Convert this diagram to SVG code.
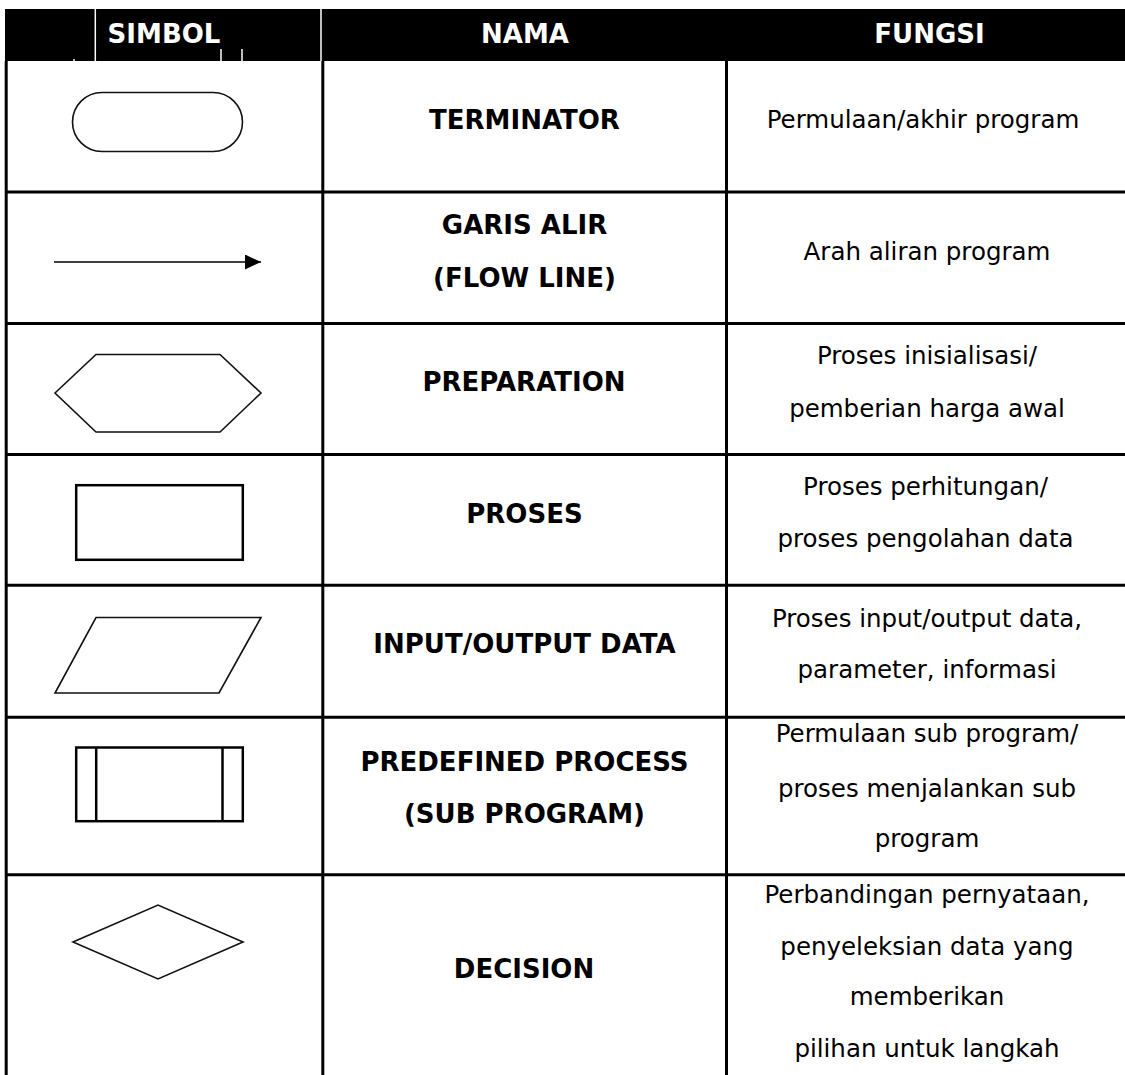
<svg xmlns="http://www.w3.org/2000/svg" width="1125" height="1075" viewBox="0 0 1125 1075">
<style>
.h{font-family:"DejaVu Sans",Verdana,sans-serif;font-weight:bold;font-size:26px;fill:#fff;text-anchor:middle}
.b{font-family:"DejaVu Sans",Verdana,sans-serif;font-weight:bold;font-size:26px;fill:#000;text-anchor:middle}
.r{font-family:"DejaVu Sans",Verdana,sans-serif;font-size:24.5px;fill:#000;text-anchor:middle}
.grid{stroke:#000;stroke-width:3;fill:none}
.thin{stroke:#111;stroke-width:1.6;fill:#fff;stroke-linejoin:miter}
.thick{stroke:#000;stroke-width:2.5;fill:#fff}
.tick{stroke:#fff;stroke-width:1.5}
</style>
<defs>
<marker id="ah" markerUnits="userSpaceOnUse" markerWidth="17" markerHeight="16" refX="16" refY="7.5" orient="auto">
<path d="M0,0 L16,7.5 L0,15 Z" fill="#000"/>
</marker>
</defs>
<rect width="1125" height="1075" fill="#fff"/>

<g id="header">
<rect x="5" y="9" width="1120" height="52" fill="#000"/>
<line class="tick" x1="95.3" y1="9" x2="95.3" y2="61"/>
<line class="tick" x1="321" y1="9" x2="321" y2="61"/>
<line class="tick" x1="221" y1="49" x2="221" y2="61"/>
<line class="tick" x1="242" y1="49" x2="242" y2="61"/>
<line class="tick" x1="74" y1="59" x2="74" y2="61"/>
<text class="h" x="164" y="43">SIMBOL</text>
<text class="h" x="525" y="43">NAMA</text>
<text class="h" x="929.5" y="43">FUNGSI</text>
</g>

<g id="grid" class="grid">
<line x1="6.2" y1="61" x2="6.2" y2="1075"/>
<line x1="322.8" y1="61" x2="322.8" y2="1075"/>
<line x1="726.5" y1="61" x2="726.5" y2="1075"/>
<line x1="5" y1="192" x2="1125" y2="192"/>
<line x1="5" y1="323.5" x2="1125" y2="323.5"/>
<line x1="5" y1="454.5" x2="1125" y2="454.5"/>
<line x1="5" y1="585.3" x2="1125" y2="585.3"/>
<line x1="5" y1="717.3" x2="1125" y2="717.3"/>
<line x1="5" y1="874.7" x2="1125" y2="874.7"/>
</g>

<g id="terminator">
<rect class="thin" x="72.5" y="92.5" width="170" height="59" rx="29.5" ry="29.5"/>
<text class="b" x="524.5" y="129">TERMINATOR</text>
<text class="r" x="923" y="128">Permulaan/akhir program</text>
</g>

<g id="flowline">
<line x1="54" y1="262" x2="261" y2="262" stroke="#000" stroke-width="1.6" marker-end="url(#ah)"/>
<text class="b" x="524.5" y="234">GARIS ALIR</text>
<text class="b" x="524.5" y="287">(FLOW LINE)</text>
<text class="r" x="927" y="260">Arah aliran program</text>
</g>

<g id="preparation">
<polygon class="thin" points="55,393 96,354.5 220,354.5 261,393 220,432 96,432"/>
<text class="b" x="524" y="391">PREPARATION</text>
<text class="r" x="927" y="364">Proses inisialisasi/</text>
<text class="r" x="927" y="417">pemberian harga awal</text>
</g>

<g id="proses">
<rect class="thick" x="76.2" y="485.2" width="166.6" height="74.6"/>
<text class="b" x="524.5" y="523">PROSES</text>
<text class="r" x="925.5" y="495">Proses perhitungan/</text>
<text class="r" x="925.5" y="547">proses pengolahan data</text>
</g>

<g id="inputoutput">
<polygon class="thin" points="96,617.5 261,617.5 219,693 55,693"/>
<text class="b" x="524.5" y="653">INPUT/OUTPUT DATA</text>
<text class="r" x="927" y="627">Proses input/output data,</text>
<text class="r" x="927" y="678">parameter, informasi</text>
</g>

<g id="predefined">
<rect class="thick" x="76.2" y="747.5" width="166.6" height="73.7"/>
<line x1="96.2" y1="747.5" x2="96.2" y2="821.2" stroke="#000" stroke-width="2.5"/>
<line x1="222.5" y1="747.5" x2="222.5" y2="821.2" stroke="#000" stroke-width="2.5"/>
<text class="b" x="524.5" y="771">PREDEFINED PROCESS</text>
<text class="b" x="524.5" y="823">(SUB PROGRAM)</text>
<text class="r" x="927" y="742">Permulaan sub program/</text>
<text class="r" x="927" y="797">proses menjalankan sub</text>
<text class="r" x="927" y="847">program</text>
</g>

<g id="decision">
<polygon class="thin" points="73,942 158,905 243,942 158,979"/>
<text class="b" x="524" y="978">DECISION</text>
<text class="r" x="927" y="903">Perbandingan pernyataan,</text>
<text class="r" x="927" y="955">penyeleksian data yang</text>
<text class="r" x="927" y="1005">memberikan</text>
<text class="r" x="927" y="1057">pilihan untuk langkah</text>
</g>
</svg>
